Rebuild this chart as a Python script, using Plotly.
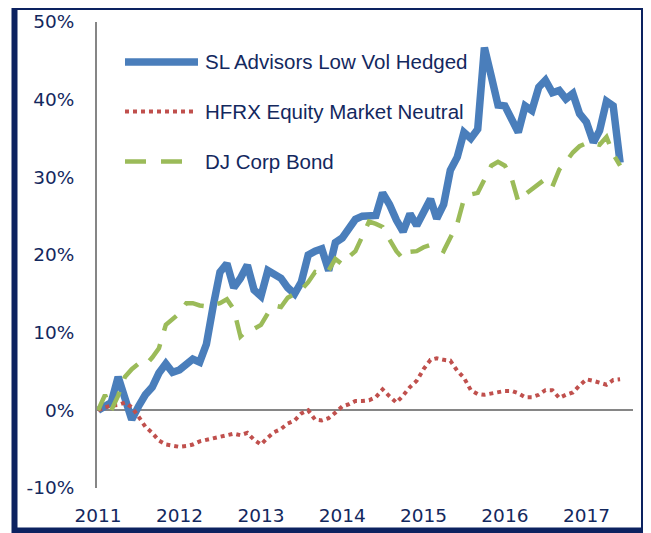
import pandas as pd
import plotly.graph_objects as go

# ---- data (cumulative return, %) monthly from Jan 2011 ----
series_names = ["SL Advisors Low Vol Hedged", "HFRX Equity Market Neutral", "DJ Corp Bond"]
dates = pd.date_range("2011-01-01", periods=78, freq="MS")

sl_advisors = [0.0, 0.5, 1.0, 4.3, 1.5, -1.2, 0.5, 2.0, 3.0, 4.8,
               6.0, 4.9, 5.2, 6.0, 6.6, 6.2, 8.5, 13.5, 17.8, 18.9,
               15.8, 17.0, 18.7, 15.5, 14.7, 18.0, 17.5, 17.0, 15.8, 15.0,
               16.5, 20.0, 20.5, 20.8, 18.0, 21.6, 22.2, 23.5, 24.6, 25.0,
               25.1, 25.1, 28.0, 26.5, 24.5, 23.0, 25.3, 23.8, 25.5, 27.2,
               24.7, 26.5, 30.9, 32.6, 35.8, 35.0, 36.2, 46.7, 43.0, 39.3,
               39.2, 37.5, 35.8, 39.2, 38.6, 41.6, 42.5, 40.9, 41.2, 40.1,
               40.8, 38.2, 37.1, 34.5, 36.0, 39.8, 39.2, 31.9]

hfrx_emn = [0.0, 0.4, 0.6, 0.7, 1.0, 0.4, -0.8, -2.1, -2.9, -3.9,
            -4.4, -4.6, -4.7, -4.6, -4.4, -4.0, -3.8, -3.6, -3.5, -3.2,
            -3.0, -3.2, -2.9, -3.8, -4.4, -3.5, -2.8, -2.4, -1.7, -1.3,
            -0.4, 0.0, -1.2, -1.3, -1.0, -0.3, 0.5, 0.8, 1.2, 1.2,
            1.3, 1.7, 2.7, 1.8, 1.0, 1.9, 3.0, 3.8, 5.3, 6.5,
            6.7, 6.5, 6.4, 5.1, 4.2, 2.6, 2.1, 2.0, 2.2, 2.4,
            2.5, 2.5, 2.2, 1.7, 1.7, 2.0, 2.6, 2.6, 1.6, 2.0,
            2.3, 3.2, 4.0, 3.8, 3.5, 3.3, 3.9, 4.0]

dj_corp_bond = [0.0, 2.0, 0.0, 1.9, 4.3, 5.3, 6.0, 5.8, 6.8, 8.0,
                11.0, 11.8, 12.5, 13.8, 13.8, 13.5, 13.4, 13.6, 13.8, 14.3,
                13.0, 9.5, 10.3, 10.5, 11.0, 12.5, 13.5, 13.3, 14.5, 15.0,
                15.5, 16.5, 17.8, 17.6, 18.0, 19.5, 18.8, 19.8, 20.5, 22.4,
                24.3, 24.0, 23.6, 22.0, 20.5, 19.5, 20.4, 20.5, 21.0, 21.3,
                21.0, 20.5, 22.2, 24.0, 27.2, 27.8, 28.0, 29.8, 31.5, 32.0,
                31.5, 29.8, 26.9, 27.8, 28.5, 29.2, 29.8, 28.8, 31.0, 32.0,
                33.2, 34.0, 34.4, 34.4, 34.2, 35.2, 33.0, 31.5]

y_ticks = [-10, 0, 10, 20, 30, 40, 50]
y_tick_labels = ["-10%", "0%", "10%", "20%", "30%", "40%", "50%"]

# ---- styles ----
NAVY = "#13285e"
FRAME = "#0c2260"
AXIS = "#868686"
colors = ["#4a7ebb", "#c0504d", "#9bbb59"]
widths = [7.5, 4, 4.5]
dashes = ["solid", "dot", "20px,14px"]

fig = go.Figure()
for name, vals, c, w, d in zip(series_names, [sl_advisors, hfrx_emn, dj_corp_bond], colors, widths, dashes):
    fig.add_trace(go.Scatter(x=dates, y=vals, mode="lines", name=name,
                             line=dict(color=c, width=w, dash=d), showlegend=False))

# page body has an 8px default margin: size the figure so it fills the window
OFF = 8
W, H = 651 - OFF, 533 - OFF
# plot-area in window pixels: left 97, right 633, top 22, bottom 488
L, T = 97 - OFF, 22 - OFF
R, B = 651 - 633, 533 - 488
pw, ph = 633 - 97, 488 - 22
px = lambda x: (x - 97) / pw          # window px -> paper x
py = lambda y: (488 - y) / ph         # window px -> paper y

shapes = []
# outer frame
shapes.append(dict(type="rect", xref="paper", yref="paper", x0=px(14.5), x1=px(668),
                   y0=py(530.5), y1=py(7), line=dict(color=FRAME, width=6), layer="below"))
shapes.append(dict(type="line", xref="paper", yref="paper", x0=px(642), x1=px(642),
                   y0=py(530), y1=py(8), line=dict(color=FRAME, width=2)))

annotations = []
leg_y = [62, 111.5, 161.5]
leg_x1 = [198, 196, 182]
leg_dash = ["solid", "dot", "21px,15px"]
for name, c, w, d, yy, x1 in zip(series_names, colors, widths, leg_dash, leg_y, leg_x1):
    shapes.append(dict(type="line", xref="paper", yref="paper", x0=px(125), x1=px(x1),
                       y0=py(yy), y1=py(yy), line=dict(color=c, width=w, dash=d)))
    annotations.append(dict(xref="paper", yref="paper", x=px(203), y=py(yy), text=name,
                            showarrow=False, xanchor="left", yanchor="middle",
                            font=dict(family="Liberation Sans, Arial", size=20.5, color=NAVY)))

fig.update_layout(
    width=W, height=H, autosize=False,
    margin=dict(l=L, r=R, t=T, b=B, pad=0, autoexpand=False),
    paper_bgcolor="white", plot_bgcolor="white",
    shapes=shapes, annotations=annotations,
    xaxis=dict(range=["2010-12-27", "2017-07-29"], tick0="2011-01-01", dtick="M12",
               tickformat="%Y", showgrid=False, zeroline=False, showline=False,
               automargin=False,
               ticks="outside", ticklen=11, tickcolor="rgba(0,0,0,0)",
               tickfont=dict(family="DejaVu Sans, Verdana", size=18.5, color=NAVY)),
    yaxis=dict(range=[-10, 50], tickmode="array", tickvals=y_ticks, ticktext=y_tick_labels,
               showgrid=False, automargin=False,
               zeroline=True, zerolinecolor=AXIS, zerolinewidth=2,
               showline=True, linecolor=AXIS, linewidth=2,
               ticks="outside", ticklen=17, tickcolor="rgba(0,0,0,0)",
               tickfont=dict(family="DejaVu Sans, Verdana", size=18.5, color=NAVY)),
)

fig.write_html("out.html")
